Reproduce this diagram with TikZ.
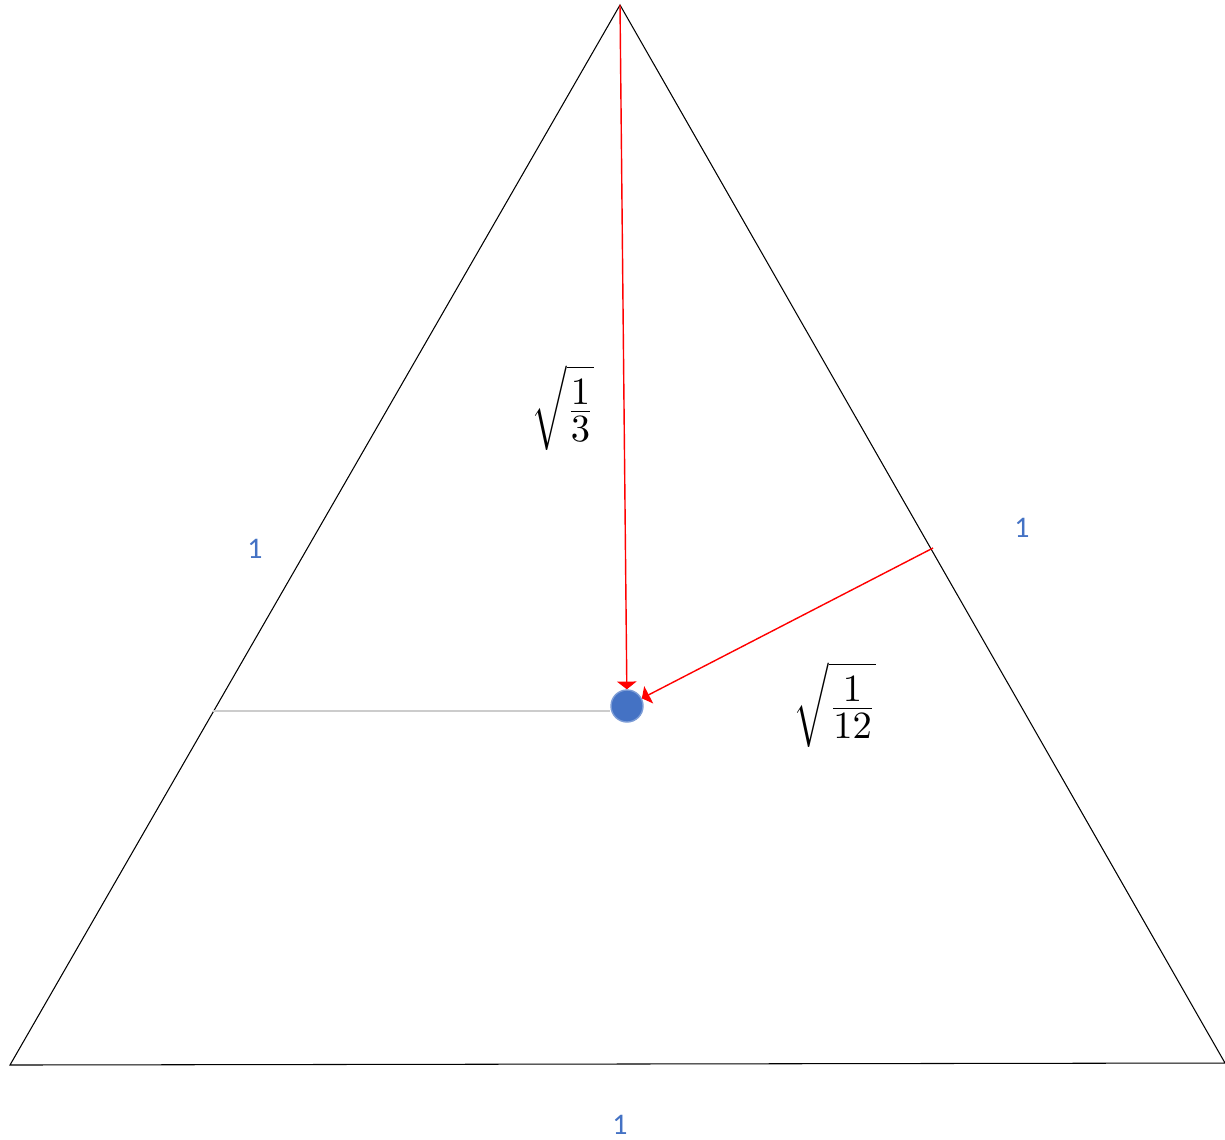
\documentclass[tikz,border=0pt]{standalone}
\usepackage{fontspec}
\newfontfamily\calfont{Carlito}
\usepackage{xcolor}
\usepackage{tikz}
\usetikzlibrary{positioning, arrows.meta}
\definecolor{officeblue}{RGB}{68,114,196}

\begin{document}
\begin{tikzpicture}[x=0.01cm, y=-0.01cm,
    lado/.style={officeblue, font=\calfont\fontsize{8.5}{10}\selectfont},
    raiz/.style={font=\fontsize{15}{18}\selectfont},
    flecha/.style={red, -{Triangle[width=5.5pt, length=2.2pt]}}]
			\useasboundingbox (0,0) rectangle (1225,1139);
			
			% Triangulo
			\coordinate (izq) at (10,1065);
			\coordinate (der) at (1225,1063);
			\coordinate (cima) at (620,5);
			\draw[black, line width=0.3pt] (izq) -- (der) -- (cima) -- cycle;
			
			% Punto
			\node[circle, fill=officeblue, draw=officeblue!70!white, inner sep=0pt, minimum size=0.32cm] (centro) at (627,706) {};
			
			% Linea gris
			\coordinate (medio) at (213,711);
			\draw[black!20, line width=0.4pt] (medio) -- (centro.west |- medio);
			
			% Flechas
			\coordinate (pie) at (933,548);
			\draw[flecha] (cima) -- (centro);
			\draw[flecha] (pie) -- (centro);
			
			% Etiquetas
			\node[raiz] (r3) at (563,408) {$\sqrt{\frac{1}{3}}$};
			\node[raiz] (r12) at (835,705) {$\sqrt{\frac{1}{12}}$};
			\node[lado] (l1) at (255,549) {1};
			\node[lado] (l2) at (1022,528) {1};
			\node[lado] (l3) at (620,1125) {1};
			\end{tikzpicture}
\end{document}
